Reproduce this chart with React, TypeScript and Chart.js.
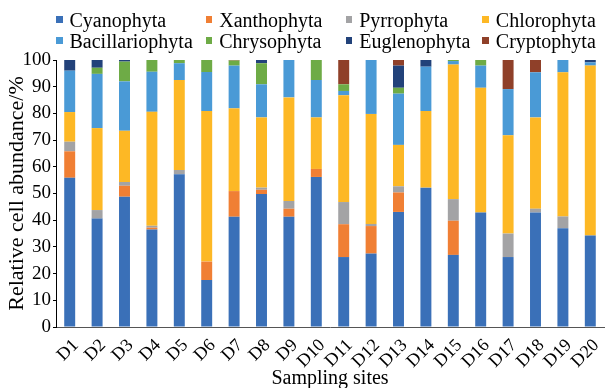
import React, { useEffect, useRef } from "react";
import { Chart, registerables } from "chart.js";

Chart.register(...registerables);

const categories = ["D1","D2","D3","D4","D5","D6","D7","D8","D9","D10","D11","D12","D13","D14","D15","D16","D17","D18","D19","D20"];
const cyanophyta = [55.9, 40.6, 48.8, 36.5, 57.2, 17.6, 41.3, 49.8, 41.3, 56.2, 26.2, 27.5, 43.1, 52.2, 27.0, 42.9, 26.2, 42.9, 37.0, 34.3];
const xanthophyta = [9.9, 0, 4.1, 0.7, 0, 6.9, 9.6, 1.6, 3.0, 3.0, 12.3, 10.3, 7.3, 0, 12.8, 0, 0, 0, 0, 0];
const pyrrophyta = [3.6, 3.2, 1.4, 0.7, 1.6, 0, 0, 0.8, 2.9, 0, 8.3, 0.8, 2.3, 0, 8.1, 0, 8.8, 1.4, 4.4, 0];
const chlorophyta = [11.1, 30.7, 19.2, 42.7, 33.7, 56.4, 31.0, 26.3, 38.8, 19.3, 40.0, 41.2, 15.5, 28.7, 50.4, 46.7, 36.8, 34.2, 54.0, 63.6];
const bacillariophyta = [15.5, 20.3, 18.5, 15.0, 6.3, 14.6, 16.0, 12.4, 14.0, 14.0, 1.6, 20.2, 19.2, 16.6, 1.3, 8.3, 17.3, 16.9, 4.6, 1.2];
const chrysophyta = [0, 2.3, 7.4, 4.5, 1.2, 4.5, 1.9, 7.9, 0, 7.5, 2.5, 0, 2.2, 0, 0.4, 2.1, 0, 0, 0, 0];
const euglenophyta = [4.0, 2.9, 0.6, 0, 0, 0, 0, 1.2, 0, 0, 0, 0, 8.3, 2.5, 0, 0, 0, 0, 0, 0.9];
const cryptophyta = [0, 0, 0, 0, 0, 0, 0.2, 0, 0, 0, 9.1, 0, 2.1, 0, 0, 0, 10.9, 4.6, 0, 0];
const yTicks = [0, 10, 20, 30, 40, 50, 60, 70, 80, 90, 100];

const seriesNames = ["Cyanophyta","Xanthophyta","Pyrrophyta","Chlorophyta","Bacillariophyta","Chrysophyta","Euglenophyta","Cryptophyta"];
const seriesData = [cyanophyta, xanthophyta, pyrrophyta, chlorophyta, bacillariophyta, chrysophyta, euglenophyta, cryptophyta];
const seriesColors = ["#3A70B8","#F07F34","#A3A3A5","#FDB825","#4A9AD6","#6EAB46","#22427A","#8F4029"];

const FONT = "'Liberation Serif', 'Times New Roman', serif";

// legend layout: 4 columns x 2 rows
const legendCols = [56, 205.7, 345.7, 482.3];
const legendRows = [19.5, 40.5];

export default function App() {
  const ref = useRef<HTMLCanvasElement | null>(null);
  useEffect(() => {
    if (!ref.current) return;
    const chart = new Chart(ref.current, {
      type: "bar",
      data: {
        labels: categories,
        datasets: seriesNames.map((n, i) => ({
          label: n,
          data: seriesData[i],
          backgroundColor: seriesColors[i],
          borderWidth: 0,
          categoryPercentage: 1,
          barPercentage: 0.4,
        })),
      },
      options: {
        responsive: true,
        maintainAspectRatio: false,
        animation: false,
        layout: { padding: { top: 60, right: 2, left: 0, bottom: 0 } },
        plugins: { legend: { display: false }, tooltip: { enabled: false } },
        scales: {
          x: {
            stacked: true,
            grid: { display: false },
            border: { display: true, color: "#555", width: 1 },
            ticks: {
              color: "#000",
              font: { family: FONT, size: 18 },
              maxRotation: 45,
              minRotation: 45,
              padding: 0,
              labelOffset: 6,
              autoSkip: false,
            },
            title: {
              display: true,
              text: "Sampling sites",
              color: "#000",
              font: { family: FONT, size: 20 },
              padding: { top: 0, bottom: -3 },
            },
            afterFit: (s: any) => { s.height = 61; },
          },
          y: {
            stacked: true,
            min: 0,
            max: 100,
            afterBuildTicks: (s: any) => { s.ticks = yTicks.map((v) => ({ value: v })); },
            grid: { display: true, drawOnChartArea: false, drawTicks: true, tickLength: 3, color: "#000" },
            border: { display: true, color: "#000", width: 1 },
            ticks: {
              color: "#000",
              font: { family: FONT, size: 19 },
              padding: 2,
            },
            title: {
              display: true,
              text: "Relative cell abundance/%",
              color: "#000",
              font: { family: FONT, size: 22 },
              padding: { top: 4, bottom: 0 },
            },
            afterFit: (s: any) => { s.width = 56; },
          },
        },
      },
    });
    return () => chart.destroy();
  }, []);

  return (
    <div style={{ position: "absolute", left: 0, top: 0, width: 606, height: 388, background: "#fff", overflow: "hidden" }}>
      <canvas ref={ref} />
      {seriesNames.map((n, i) => {
        const col = i % 4;
        const row = Math.floor(i / 4);
        const x = legendCols[col];
        const y = legendRows[row];
        return (
          <div key={n} style={{ position: "absolute", left: x, top: y - 12, height: 24, display: "flex", alignItems: "center", whiteSpace: "nowrap" }}>
            <span style={{ display: "inline-block", width: 6.5, height: 6.5, background: seriesColors[i], marginRight: 7 }} />
            <span style={{ fontFamily: FONT, fontSize: 20, color: "#000", lineHeight: "24px" }}>{n}</span>
          </div>
        );
      })}
    </div>
  );
}
